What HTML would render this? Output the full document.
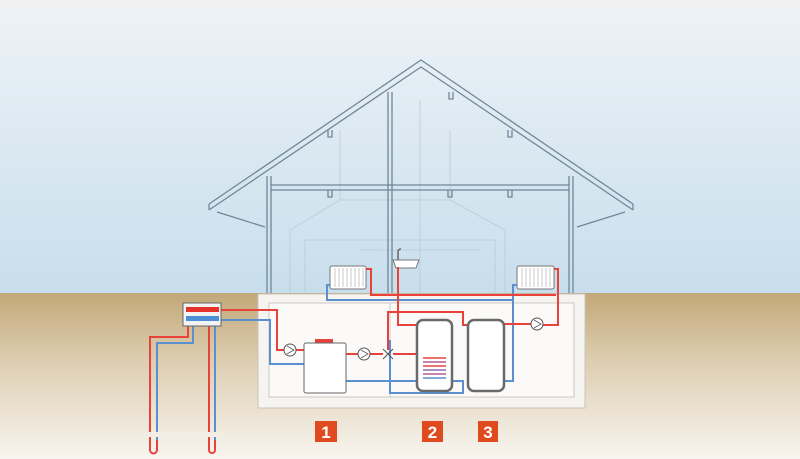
<!DOCTYPE html>
<html><head><meta charset="utf-8"><style>
html,body{margin:0;padding:0;width:800px;height:459px;overflow:hidden}
svg{display:block}
</style></head><body>
<svg width="800" height="459" viewBox="0 0 800 459" xmlns="http://www.w3.org/2000/svg">
<defs>
<linearGradient id="sky" x1="0" y1="0" x2="0" y2="1">
<stop offset="0" stop-color="#eef3f7"/><stop offset="1" stop-color="#c8deec"/></linearGradient>
<linearGradient id="gr" x1="0" y1="0" x2="0" y2="1">
<stop offset="0" stop-color="#c2a878"/><stop offset="0.4" stop-color="#ddcdb0"/><stop offset="1" stop-color="#f8f5f0"/></linearGradient>
</defs>
<rect x="0" y="0" width="800" height="293" fill="url(#sky)"/>
<rect x="0" y="0" width="800" height="7" fill="#f0f0f0"/>
<rect x="0" y="293" width="800" height="166" fill="url(#gr)"/>

<g stroke="#b7cbd8" stroke-width="1" fill="none" opacity="0.8">
<path d="M290 293 V230 L340 200 H450 L505 230 V293"/>
<path d="M305 293 V240 H495 V293"/>
<path d="M340 200 V130 M450 200 V130 M420 100 V293 M360 250 H480"/>
</g>
<g stroke="#6f8798" stroke-width="1.3" fill="none">
<path d="M209 204 L421 60 L633 204"/>
<path d="M209 210 L421 67 L633 210"/>
<path d="M209 204 V210 M633 204 V210"/>
<path d="M217 212 L265 227 M625 212 L577 227"/>
<path d="M267 176 V293 M271 176 V293 M569 176 V293 M573 176 V293"/>
<path d="M388 92 V293 M392 92 V293"/>
<path d="M271 185 H569 M271 190 H569"/>
<path d="M328 190 v7 h4 v-7 M448 190 v7 h4 v-7 M508 190 v7 h4 v-7 M328 130 v7 h4 v-7 M508 130 v7 h4 v-7 M449 92 v7 h4 v-7"/>
</g>
<rect x="258" y="294" width="327" height="114" fill="#f6f4f1" stroke="#c9c4bc"/>
<rect x="269" y="303" width="305" height="94" fill="#fbfaf9" stroke="#ccc8c2"/>
<path d="M390 303 V397" stroke="#ccc8c2"/>

<g stroke="#777" fill="#fff" stroke-width="1">
<rect x="330" y="266" width="36" height="23" rx="2"/>
<rect x="517" y="266" width="37" height="23" rx="2"/>
<path d="M393 260 h26 l-3 8 h-20 z"/>
</g>
<g stroke="#bbb" stroke-width="0.8">
<path d="M335 268v19M339 268v19M343 268v19M347 268v19M351 268v19M355 268v19M359 268v19M363 268v19"/>
<path d="M522 268v19M526 268v19M530 268v19M534 268v19M538 268v19M542 268v19M546 268v19M550 268v19"/>
</g>
<path d="M398 260 v-8 q0-3 3-3" stroke="#666" fill="none" stroke-width="1.5"/>

<g stroke="#5a8fd0" stroke-width="2" fill="none">
<path d="M330 285 H327 V300 H513 V285 H517"/>
<path d="M221 320 H270 V364 H304"/>
<path d="M346 381 H463 V393 H390 V340"/>
<path d="M503 381 H513 V300"/>
<path d="M193 326 V343 H157 V450"/>
<path d="M215 326 V450"/>
</g>
<g stroke="#e8423a" stroke-width="2" fill="none">
<path d="M366 269 H371 V295 H556"/>
<path d="M554 269 H558 V325 H543"/>
<path d="M531 324 H503"/>
<path d="M398 267 V325 H417"/>
<path d="M388 350 V312 H463 V325 H468"/>
<path d="M221 310 H277 V350 H284"/>
<path d="M296 350 H304"/>
<path d="M346 354 H358 M370 354 H383 M393 354 H446"/>
<path d="M188 326 V337 H150 V450"/>
<path d="M209 326 V450"/>
</g>
<g fill="none" stroke-width="2">
<path d="M150 440 V450 a3.5 3.5 0 0 0 7 0 V440" stroke="#e8423a"/>
<path d="M209 440 V450 a3 3 0 0 0 6 0 V440" stroke="#e8423a"/>
</g>
<rect x="145" y="432" width="75" height="5" fill="#f3eee5"/>

<rect x="183" y="303" width="38" height="23" fill="#f3f3f3" stroke="#666" stroke-width="1"/>
<rect x="186" y="307" width="33" height="5" fill="#e8302a"/>
<rect x="186" y="316" width="33" height="5" fill="#4d8fd6"/>

<rect x="315" y="339" width="18" height="5" fill="#e8423a"/>
<rect x="304" y="343" width="42" height="50" rx="2" fill="#fff" stroke="#666"/>
<rect x="417" y="320" width="35" height="71" rx="6" fill="#fff" stroke="#6a6a6a" stroke-width="2.5"/>
<rect x="468" y="320" width="36" height="71" rx="6" fill="#fff" stroke="#6a6a6a" stroke-width="2.5"/>
<g stroke-width="1.5">
<path d="M423 358 H446" stroke="#e8423a"/><path d="M423 362 H446" stroke="#b55a8c"/>
<path d="M423 366 H446" stroke="#e8423a"/><path d="M423 370 H446" stroke="#8a6ab5"/>
<path d="M423 374 H446" stroke="#b55a8c"/><path d="M423 378 H446" stroke="#5a8fd0"/>
</g>
<g fill="#fff" stroke="#555" stroke-width="1">
<circle cx="290" cy="350" r="6"/><circle cx="364" cy="354" r="6"/><circle cx="537" cy="324" r="6"/>
<path d="M383 349 L393 359 M383 359 L393 349"/>
</g>
<g stroke="#555" stroke-width="0.8"><path d="M287 346 L294 350 L287 354 M361 350 L368 354 L361 358 M534 320 L541 324 L534 328" fill="none"/></g>

<g font-family="Liberation Sans, sans-serif" font-weight="bold" font-size="17" fill="#fff" text-anchor="middle">
<rect x="315" y="421" width="22" height="21" fill="#e04a1f"/><text x="326" y="438">1</text>
<rect x="422" y="421" width="21" height="21" fill="#e04a1f"/><text x="432.5" y="438">2</text>
<rect x="478" y="421" width="20" height="21" fill="#e04a1f"/><text x="488" y="438">3</text>
</g>
</svg>
</body></html>
